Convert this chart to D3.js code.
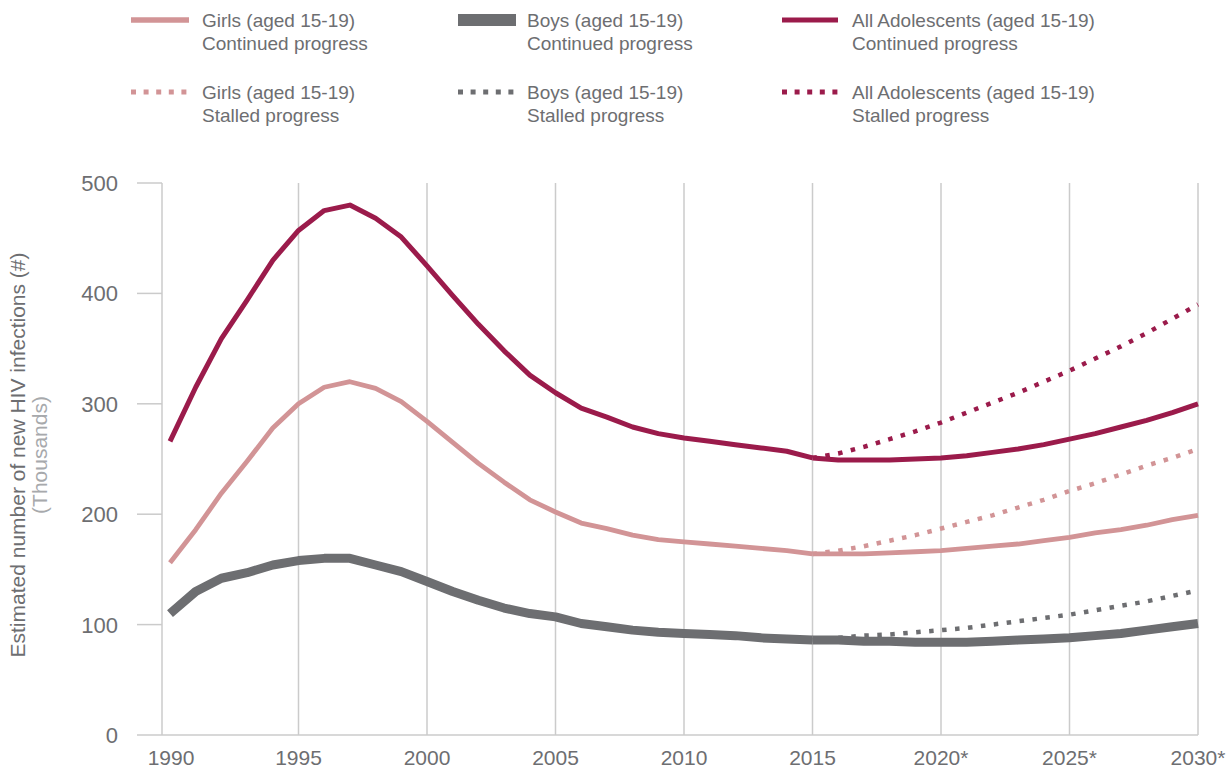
<!DOCTYPE html>
<html>
<head>
<meta charset="utf-8">
<script src="https://cdn.jsdelivr.net/npm/d3@7"></script>
<style>
  body { margin: 0; background: #fff; }
  svg text { font-family: "Liberation Sans", Arial, sans-serif; fill: #6d6e71; }
</style>
</head>
<body>
<div id="chart-area"></div>
<script>
// historical years 1990-2015
var histYears = d3.range(1990, 2016);
var allHist = [266, 315, 359, 394, 430, 457, 475, 480, 468, 451, 425, 398, 372, 348, 326, 310, 296, 288, 279, 273, 269, 266, 263, 260, 257, 251];
var girlsHist = [156, 186, 219, 248, 278, 300, 315, 320, 314, 302, 284, 265, 246, 229, 213, 202, 192, 187, 181, 177, 175, 173, 171, 169, 167, 164];
var boysHist = [110, 130, 142, 147, 154, 158, 160, 160, 154, 148, 139, 130, 122, 115, 110, 107, 101, 98, 95, 93, 92, 91, 90, 88, 87, 86];

// projections 2015-2030
var projYears = d3.range(2015, 2031);
var allCont = [251, 249, 249, 249, 250, 251, 253, 256, 259, 263, 268, 273, 279, 285, 292, 300];
var allStall = [251, 255, 261, 268, 275, 283, 292, 301, 310, 320, 330, 341, 352, 364, 377, 390];
var girlsCont = [164, 164, 164, 165, 166, 167, 169, 171, 173, 176, 179, 183, 186, 190, 195, 199];
var girlsStall = [164, 167, 171, 176, 181, 187, 193, 199, 206, 213, 221, 228, 236, 244, 251, 259];
var boysCont = [86, 86, 85, 85, 84, 84, 84, 85, 86, 87, 88, 90, 92, 95, 98, 101];
var boysStall = [86, 88, 90, 91, 93, 95, 97, 100, 103, 106, 109, 113, 117, 121, 126, 131];

var yTicks = [0, 100, 200, 300, 400, 500];
var xTicks = [1990, 1995, 2000, 2005, 2010, 2015, 2020, 2025, 2030];
var xTickLabels = ["1990", "1995", "2000", "2005", "2010", "2015", "2020*", "2025*", "2030*"];

var colAll = "#9b1b4b", colGirls = "#d29496", colBoys = "#6d6e71";

var svg = d3.select("#chart-area")
    .append("svg")
        .attr("width", 1227)
        .attr("height", 770);

var x = d3.scaleLinear().domain([1990, 2030]).range([170, 1198]);
var y = d3.scaleLinear().domain([0, 500]).range([735, 183]);

// vertical gridlines
svg.selectAll("line.grid")
    .data(xTicks.slice(1))
    .enter().append("line")
        .attr("class", "grid")
        .attr("x1", d => x(d)).attr("x2", d => x(d))
        .attr("y1", y(500)).attr("y2", y(0))
        .attr("stroke", "#cbcbcb").attr("stroke-width", 1.5);

// y axis line, ticks and bottom line
svg.append("line")
    .attr("x1", 162).attr("x2", 162)
    .attr("y1", y(500)).attr("y2", y(0))
    .attr("stroke", "#cbcbcb").attr("stroke-width", 1.5);

svg.selectAll("line.ytick")
    .data(yTicks)
    .enter().append("line")
        .attr("class", "ytick")
        .attr("x1", 137).attr("x2", d => d === 0 ? x(2030) : 162)
        .attr("y1", d => y(d)).attr("y2", d => y(d))
        .attr("stroke", "#cbcbcb").attr("stroke-width", 1.5);

svg.selectAll("text.ylab")
    .data(yTicks)
    .enter().append("text")
        .attr("class", "ylab")
        .attr("x", 118)
        .attr("y", d => y(d) + 8)
        .attr("text-anchor", "end")
        .style("font-size", "22px")
        .text(d => d);

svg.selectAll("text.xlab")
    .data(xTicks)
    .enter().append("text")
        .attr("class", "xlab")
        .attr("x", (d, i) => x(d) + (i === 0 ? 1 : 0))
        .attr("y", 765)
        .attr("text-anchor", "middle")
        .style("font-size", "21px")
        .text((d, i) => xTickLabels[i]);

// y axis title
var title = svg.append("text")
    .attr("transform", "translate(25," + 455 + ") rotate(-90)")
    .attr("text-anchor", "middle")
    .style("font-size", "21px");
title.append("tspan").attr("x", 0).attr("dy", 0).text("Estimated number of new HIV infections (#)");
title.append("tspan").attr("x", 0).attr("dy", 22).style("fill", "#a7a9ac").text("(Thousands)");

// lines
var line = d3.line()
    .x(d => x(d[0]))
    .y(d => y(d[1]));

function pairs(years, vals) {
    return years.map((yr, i) => [yr, vals[i]]);
}

var series = [
    { years: projYears, vals: boysStall, color: colBoys, width: 4.5, dotted: true },
    { years: projYears, vals: girlsStall, color: colGirls, width: 4.5, dotted: true },
    { years: projYears, vals: allStall, color: colAll, width: 4.5, dotted: true },
    { years: histYears, vals: boysHist, color: colBoys, width: 9 },
    { years: projYears, vals: boysCont, color: colBoys, width: 9 },
    { years: histYears, vals: girlsHist, color: colGirls, width: 4.8 },
    { years: projYears, vals: girlsCont, color: colGirls, width: 4.8 },
    { years: histYears, vals: allHist, color: colAll, width: 5 },
    { years: projYears, vals: allCont, color: colAll, width: 5 }
];

svg.selectAll("path.series")
    .data(series)
    .enter().append("path")
        .attr("class", "series")
        .attr("d", d => line(pairs(d.years, d.vals)))
        .attr("fill", "none")
        .attr("stroke", d => d.color)
        .attr("stroke-width", d => d.width)
        .attr("stroke-dasharray", d => d.dotted ? "4.5,8.5" : null)
        .attr("stroke-linejoin", "round");

// legend
var legendItems = [
    { name: "Girls (aged 15-19)", kind: "Continued progress", color: colGirls, width: 5.5, dotted: false, x0: 131, x1: 189, tx: 202, ty: 20 },
    { name: "Boys (aged 15-19)", kind: "Continued progress", color: colBoys, width: 12, dotted: false, x0: 458, x1: 516, tx: 527, ty: 20 },
    { name: "All Adolescents (aged 15-19)", kind: "Continued progress", color: colAll, width: 5, dotted: false, x0: 782, x1: 838, tx: 852, ty: 20 },
    { name: "Girls (aged 15-19)", kind: "Stalled progress", color: colGirls, width: 5, dotted: true, x0: 131, x1: 189, tx: 202, ty: 92 },
    { name: "Boys (aged 15-19)", kind: "Stalled progress", color: colBoys, width: 5, dotted: true, x0: 458, x1: 516, tx: 527, ty: 92 },
    { name: "All Adolescents (aged 15-19)", kind: "Stalled progress", color: colAll, width: 5, dotted: true, x0: 782, x1: 838, tx: 852, ty: 92 }
];

var lg = svg.selectAll("g.legend")
    .data(legendItems)
    .enter().append("g")
        .attr("class", "legend");

lg.append("line")
    .attr("x1", d => d.x0).attr("x2", d => d.x1)
    .attr("y1", d => d.ty).attr("y2", d => d.ty)
    .attr("stroke", d => d.color)
    .attr("stroke-width", d => d.width)
    .attr("stroke-dasharray", d => d.dotted ? "5,7.6" : null);

lg.append("text")
    .attr("x", d => d.tx).attr("y", d => d.ty + 7)
    .style("font-size", "19px")
    .text(d => d.name);

lg.append("text")
    .attr("x", d => d.tx).attr("y", d => d.ty + 30)
    .style("font-size", "19px")
    .text(d => d.kind);
</script>
</body>
</html>
